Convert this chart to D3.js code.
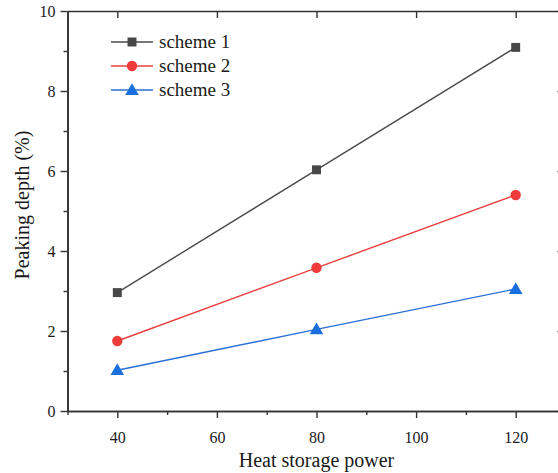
<!DOCTYPE html>
<html>
<head>
<meta charset="utf-8">
<script src="https://cdn.jsdelivr.net/npm/d3@7/dist/d3.min.js"></script>
<style>
  html, body { margin: 0; padding: 0; background: #fff; }
  svg { display: block; }
  svg text { font-family: "Liberation Serif", "DejaVu Serif", serif !important; fill: #1a1a1a; }
</style>
</head>
<body>
<svg id="chart" width="558" height="473"></svg>
<script>
// Heat storage power levels
const powers = [40, 80, 120];
// Peaking depth (%) for each scheme
const scheme1 = [2.96, 6.03, 9.09];
const scheme2 = [1.75, 3.58, 5.40];
const scheme3 = [1.02, 2.04, 3.05];
const seriesNames = ["scheme 1", "scheme 2", "scheme 3"];
const xTicks = [40, 60, 80, 100, 120];
const yTicks = [0, 2, 4, 6, 8, 10];

const series = [
  { name: seriesNames[0], values: scheme1, line: "#4a4a4a", fill: "#474747", symbol: d3.symbolSquare, size: 80 },
  { name: seriesNames[1], values: scheme2, line: "#e8403f", fill: "#ef3b3b", symbol: d3.symbolCircle, size: 85 },
  { name: seriesNames[2], values: scheme3, line: "#2a6fd8", fill: "#1a6fdf", symbol: d3.symbolTriangle, size: 80 }
];

const serif = "'Liberation Serif', 'DejaVu Serif', serif";
const svg = d3.select("#chart").attr("font-family", serif);
const plotLeft = 67.5, plotRight = 565.5, plotTop = 11, plotBottom = 411;

const x = d3.scaleLinear().domain([30, 130]).range([plotLeft, plotRight]);
const y = d3.scaleLinear().domain([0, 10]).range([plotBottom, plotTop]);

const axisColor = "#333";
const minorX = d3.range(30, 131, 10).filter(v => !xTicks.includes(v));
const minorY = d3.range(1, 10, 2);

function styleAxis(g) {
  g.attr("font-family", serif).attr("font-size", 16);
  g.select(".domain").attr("stroke", axisColor).attr("stroke-width", 1.6);
  g.selectAll(".tick line").attr("stroke", axisColor).attr("stroke-width", 1.4);
  g.selectAll(".tick text").attr("fill", "#222");
}

// Bottom axis (outward ticks)
svg.append("g").attr("transform", `translate(0,${plotBottom})`)
  .call(d3.axisBottom(x).tickValues(xTicks).tickSize(7).tickPadding(14).tickSizeOuter(0))
  .call(styleAxis);
svg.append("g").attr("transform", `translate(0,${plotBottom})`)
  .call(d3.axisBottom(x).tickValues(minorX).tickSize(4).tickFormat("").tickSizeOuter(0))
  .call(styleAxis);

// Left axis (outward ticks)
svg.append("g").attr("transform", `translate(${plotLeft},0)`)
  .call(d3.axisLeft(y).tickValues(yTicks).tickSize(7).tickPadding(5).tickSizeOuter(0))
  .call(styleAxis);
svg.append("g").attr("transform", `translate(${plotLeft},0)`)
  .call(d3.axisLeft(y).tickValues(minorY).tickSize(4).tickFormat("").tickSizeOuter(0))
  .call(styleAxis);

// Top mirror axis (inward ticks)
svg.append("g").attr("transform", `translate(0,${plotTop})`)
  .call(d3.axisTop(x).tickValues(xTicks).tickSize(-7).tickFormat("").tickSizeOuter(0))
  .call(styleAxis);

// Right mirror axis (inward ticks)
svg.append("g").attr("transform", `translate(${plotRight},0)`)
  .call(d3.axisRight(y).tickValues(yTicks).tickSize(-8).tickFormat("").tickSizeOuter(0))
  .call(styleAxis);

// Lines and markers
const line = d3.line().x((d, i) => x(powers[i])).y(d => y(d));
series.forEach(s => {
  svg.append("path").datum(s.values)
    .attr("fill", "none").attr("stroke", s.line).attr("stroke-width", 1.4)
    .attr("d", line);
  svg.selectAll(null).data(s.values).enter().append("path")
    .attr("d", d3.symbol().type(s.symbol).size(s.size))
    .attr("transform", (d, i) => `translate(${x(powers[i])},${y(d) + (s.symbol === d3.symbolTriangle ? 1 : 0)})`)
    .attr("fill", s.fill);
});

// Legend
const legend = svg.append("g").attr("transform", "translate(111,42)");
series.forEach((s, i) => {
  const g = legend.append("g").attr("transform", `translate(0,${i * 24})`);
  g.append("line").attr("x1", 0).attr("x2", 42).attr("y1", 0).attr("y2", 0)
    .attr("stroke", s.line).attr("stroke-width", 1.4);
  g.append("path").attr("d", d3.symbol().type(s.symbol).size(s.size))
    .attr("transform", `translate(21,${s.symbol === d3.symbolTriangle ? 1 : 0})`).attr("fill", s.fill);
  g.append("text").attr("x", 48).attr("y", 6).attr("font-size", 19).text(s.name);
});

// Axis titles
svg.append("text").attr("x", x(80)).attr("y", 467)
  .attr("text-anchor", "middle").attr("font-size", 20).text("Heat storage power");
svg.append("text").attr("transform", `translate(29,${(plotTop + plotBottom) / 2 - 6}) rotate(-90)`)
  .attr("text-anchor", "middle").attr("font-size", 20).text("Peaking depth (%)");
</script>
</body>
</html>
